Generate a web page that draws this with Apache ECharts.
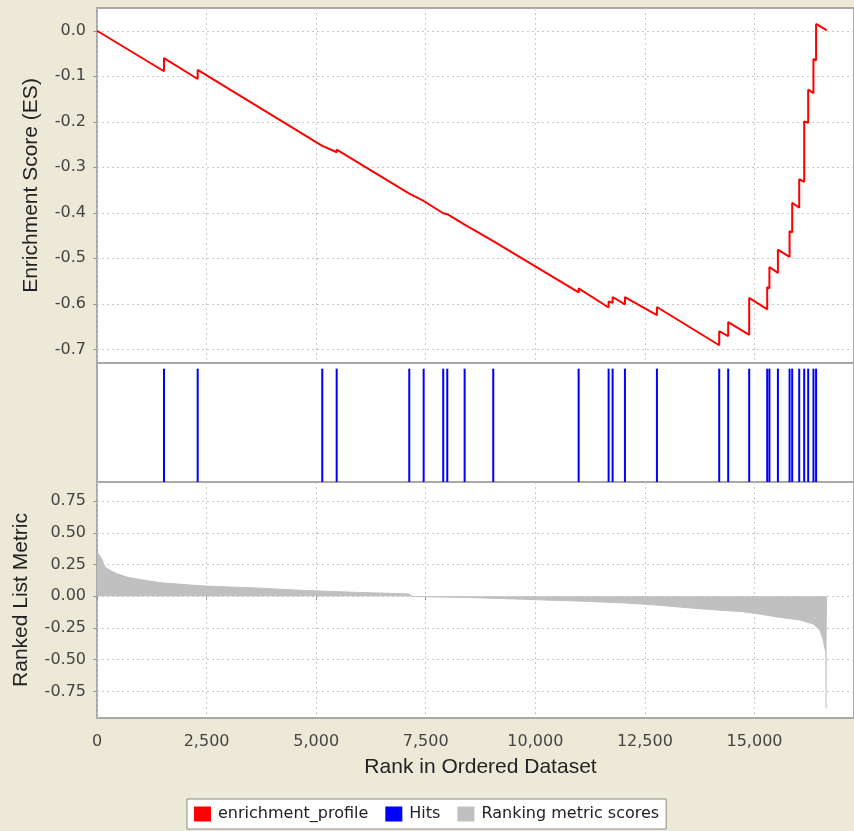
<!DOCTYPE html>
<html>
<head>
<meta charset="utf-8">
<title>Enrichment plot</title>
<script src="https://cdn.jsdelivr.net/npm/echarts@6/dist/echarts.min.js"></script>
<style>
    html, body { margin: 0; padding: 0; background: #ece9d8; }
    #chart { width: 854px; height: 831px; }
</style>
</head>
<body>
<div id="chart"></div>
<script>
// ranks of the gene set members (hits) in the ordered list
var hitRanks = [1528, 2297, 5139, 5468, 7124, 7452, 7899, 7991, 8387, 9040,
    10988, 11672, 11763, 12044, 12774, 14195, 14400, 14879, 15290, 15340,
    15534, 15800, 15860, 16020, 16134, 16225, 16345, 16405];
// running enrichment score just before / just after each hit
var esBefore = [-0.089, -0.106, -0.253, -0.267, -0.358, -0.374, -0.401, -0.403, -0.426, -0.462,
    -0.575, -0.608, -0.598, -0.601, -0.625, -0.691, -0.671, -0.668, -0.612, -0.566,
    -0.532, -0.497, -0.443, -0.389, -0.332, -0.202, -0.137, -0.065];
var esAfter = [-0.060, -0.086, -0.249, -0.261, -0.355, -0.371, -0.397, -0.400, -0.422, -0.458,
    -0.566, -0.595, -0.585, -0.585, -0.607, -0.660, -0.640, -0.587, -0.563, -0.519,
    -0.481, -0.440, -0.378, -0.326, -0.199, -0.129, -0.062, 0.015];
var esStart = [0, 0.0];
var esEnd = [16650, 0.001];

// ranked list metric (rank, score)
var metricRanks = [0, 40, 107, 182, 297, 449, 677, 981, 1437, 2200, 2580, 3630, 4620, 5860,
    7100, 7200, 7250, 8450, 9700, 10950, 11950, 12700, 13440, 14190, 14670, 15120,
    15580, 16040, 16340, 16490, 16570, 16610, 16630, 16632, 16655];
var metricScores = [0.35, 0.33, 0.295, 0.23, 0.204, 0.178, 0.151, 0.131, 0.107, 0.086, 0.078, 0.065, 0.047, 0.031,
    0.018, 0.0, -0.003, -0.01, -0.024, -0.038, -0.052, -0.068, -0.09, -0.11, -0.12, -0.141,
    -0.167, -0.188, -0.219, -0.266, -0.345, -0.42, -0.44, -0.88, -0.88];

var esTicks = [0, -0.1, -0.2, -0.3, -0.4, -0.5, -0.6, -0.7];
var metricTicks = [0.75, 0.5, 0.25, 0, -0.25, -0.5, -0.75];
var rankMax = 17270;

var esData = [esStart];
for (var i = 0; i < hitRanks.length; i++) {
    esData.push([hitRanks[i], esBefore[i]]);
    esData.push([hitRanks[i], esAfter[i]]);
}
esData.push(esEnd);

var hitData = hitRanks.map(function(r) { return [r, 1]; });
var metricData = metricRanks.map(function(r, i) { return [r, metricScores[i]]; });

var labelFont = 'DejaVu Sans';
var titleFont = 'Liberation Sans';
var dashed = { show: true, lineStyle: { color: '#c8c8c8', type: [2, 3], width: 1 } };

function xAxisFor(idx, withLabels) {
    return {
        type: 'value',
        gridIndex: idx,
        min: 0,
        max: rankMax,
        interval: 2500,
        axisLine: { show: false },
        axisTick: { show: withLabels, length: 4, lineStyle: { color: '#999' } },
        axisLabel: {
            show: withLabels,
            showMaxLabel: false,
            margin: 16,
            fontFamily: labelFont,
            fontSize: 16,
            color: '#444',
            formatter: function(v) { return v.toLocaleString('en-US'); }
        },
        splitLine: idx === 1 ? { show: false } : dashed
    };
}

var gridBase = { left: 97, right: 0, show: true, backgroundColor: '#fff', borderColor: '#a8a8a8', borderWidth: 2 };

var option = {
    animation: false,
    backgroundColor: '#ece9d8',
    grid: [
        Object.assign({ top: 8, height: 355 }, gridBase),
        Object.assign({ top: 363, height: 119 }, gridBase),
        Object.assign({ top: 482, height: 236 }, gridBase)
    ],
    legend: {
        left: 187,
        top: 799,
        icon: 'rect',
        itemWidth: 17,
        itemHeight: 15,
        itemGap: 17,
        padding: [7, 7, 7, 7],
        backgroundColor: '#fff',
        borderColor: '#8a8a8a',
        borderWidth: 1,
        textStyle: { fontFamily: labelFont, fontSize: 16, color: '#222', padding: [0, 0, 0, 2] },
        data: ['enrichment_profile', 'Hits', 'Ranking metric scores']
    },
    xAxis: [xAxisFor(0, false), xAxisFor(1, false), xAxisFor(2, true)],
    yAxis: [{
            type: 'value',
            gridIndex: 0,
            min: -0.73,
            max: 0.05,
            name: 'Enrichment Score (ES)',
            nameLocation: 'middle',
            nameGap: 55,
            nameTextStyle: { fontFamily: titleFont, fontSize: 21, color: '#222' },
            axisLine: { show: false },
            axisTick: { show: true, length: 4, customValues: esTicks, lineStyle: { color: '#999' } },
            axisLabel: {
                customValues: esTicks,
                margin: 11,
                fontFamily: labelFont,
                fontSize: 16,
                color: '#444',
                formatter: function(v) { return v.toFixed(1); }
            },
            splitLine: dashed
        },
        {
            type: 'value',
            gridIndex: 1,
            min: 0,
            max: 1.05,
            show: false
        },
        {
            type: 'value',
            gridIndex: 2,
            min: -0.96,
            max: 0.9,
            name: 'Ranked List Metric',
            nameLocation: 'middle',
            nameGap: 65,
            nameTextStyle: { fontFamily: titleFont, fontSize: 21, color: '#222' },
            axisLine: { show: false },
            axisTick: { show: true, length: 4, customValues: metricTicks, lineStyle: { color: '#999' } },
            axisLabel: {
                customValues: metricTicks,
                margin: 11,
                fontFamily: labelFont,
                fontSize: 16,
                color: '#444',
                formatter: function(v) { return v.toFixed(2); }
            },
            splitLine: dashed
        }
    ],
    series: [{
            name: 'enrichment_profile',
            type: 'line',
            xAxisIndex: 0,
            yAxisIndex: 0,
            showSymbol: false,
            itemStyle: { color: '#ff0000' },
            lineStyle: { color: '#ff0000', width: 2 },
            data: esData
        },
        {
            name: 'Hits',
            type: 'bar',
            xAxisIndex: 1,
            yAxisIndex: 1,
            barWidth: 2,
            itemStyle: { color: '#0000ff' },
            data: hitData
        },
        {
            name: 'Ranking metric scores',
            type: 'line',
            xAxisIndex: 2,
            yAxisIndex: 2,
            showSymbol: false,
            itemStyle: { color: '#c0c0c0' },
            lineStyle: { color: '#c0c0c0', width: 1 },
            areaStyle: { color: '#c0c0c0', opacity: 1 },
            data: metricData
        }
    ]
};

// x axis title sits under the bottom panel
option.xAxis[2].name = 'Rank in Ordered Dataset';
option.xAxis[2].nameLocation = 'middle';
option.xAxis[2].nameGap = 39;
option.xAxis[2].nameTextStyle = { fontFamily: titleFont, fontSize: 21, color: '#222', padding: [0, 0, 0, 10] };

var myChart = echarts.init(document.getElementById('chart'));
myChart.setOption(option);
</script>
</body>
</html>
